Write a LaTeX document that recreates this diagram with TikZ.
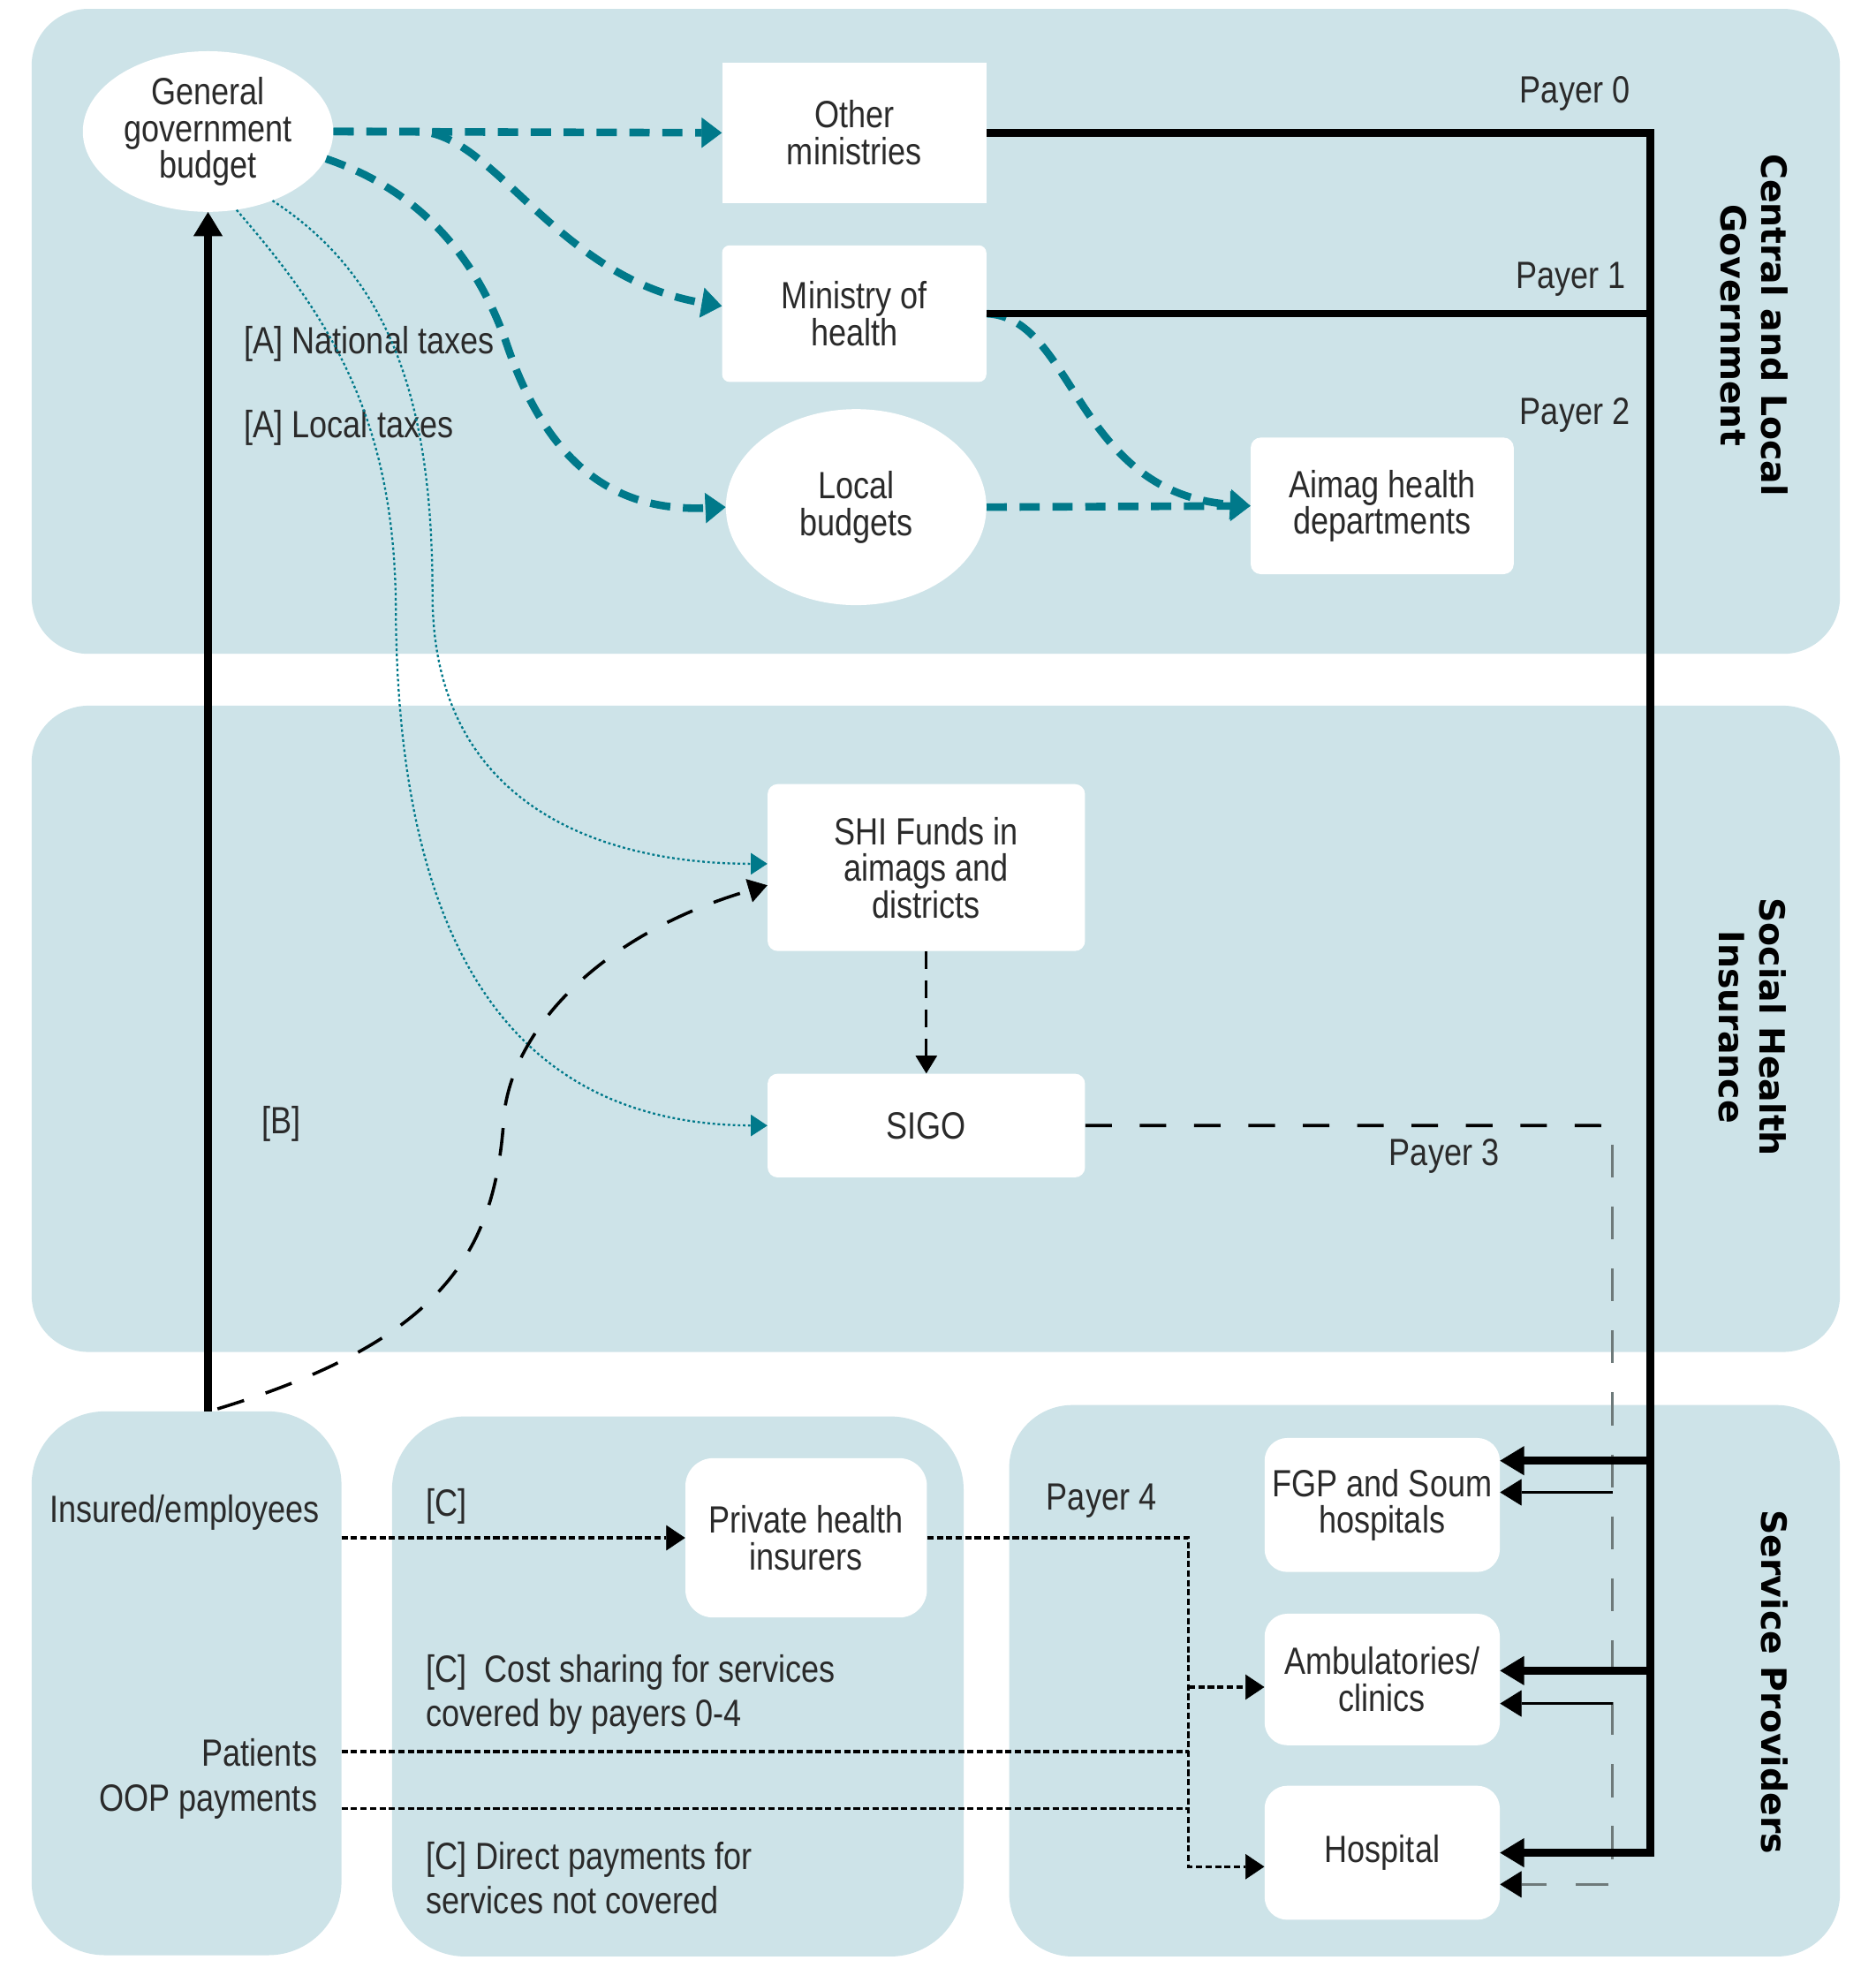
\documentclass[tikz,border=0pt]{standalone}
\usepackage{fontspec}
\setmainfont{Liberation Sans}[FakeStretch=0.84]
\newfontfamily\hdrfont{DejaVu Sans}
\usetikzlibrary{arrows.meta,shapes.geometric}
\definecolor{panel}{HTML}{CDE3E8}
\definecolor{tealc}{HTML}{00798A}
\definecolor{txt}{HTML}{2A2A2A}
\definecolor{grayd}{HTML}{6E7A7A}
\begin{document}
\begin{tikzpicture}[x=1pt,y=-1pt,
  every node/.style={text=txt, font=\fontsize{30}{29}\selectfont},
  box/.style={draw=none, fill=white, align=center, inner sep=0pt},
  oval/.style={ellipse, draw=none, fill=white, align=center, inner sep=0pt},
  lbl/.style={inner sep=0pt, align=left},
  hdr/.style={inner sep=0pt, align=center, text=black, font=\hdrfont\bfseries\fontsize{27.5}{32}\selectfont},
  tealdash/.style={draw=tealc, line width=6pt, dash pattern=on 16pt off 10pt,
     -{Triangle[length=16pt,width=24pt,line width=0.5pt]}},
  tealdot/.style={draw=tealc, line width=1.6pt, dash pattern=on 2pt off 2pt,
     -{Triangle[length=13pt,width=17pt,line width=0.5pt]}},
  thickblk/.style={draw=black, line width=6pt, line join=miter},
  thickarr/.style={thickblk, -{Triangle[length=19pt,width=23pt,line width=0.5pt]}},
  thinarr/.style={draw=black, line width=2.4pt, -{Triangle[length=17pt,width=21pt,line width=0.5pt]}},
  fdash/.style={draw=black, line width=2.2pt, dash pattern=on 5pt off 2.5pt},
  fdarr/.style={fdash, -{Triangle[length=15pt,width=20pt,line width=0.5pt]}},
  sdash/.style={draw=black, line width=2pt, dash pattern=on 14pt off 9pt,
     -{Triangle[length=14pt,width=17pt,line width=0.5pt]}},
  bdash/.style={draw=black, line width=2.5pt, dash pattern=on 22pt off 18pt,
     -{Triangle[length=15pt,width=19pt,line width=0.5pt]}},
  sigodash/.style={draw=black, line width=2.5pt, dash pattern=on 21pt off 22pt},
  graydash/.style={draw=grayd, line width=2.5pt, dash pattern=on 26pt off 23pt,
     -{Triangle[length=17pt,width=21pt,line width=0.5pt,color=black]}}
]
\useasboundingbox (0,0) rectangle (1483,1568);
\fill[white] (0,0) rectangle (1483,1568);

% panels
\fill[panel, rounded corners=45pt] (25,7) rectangle (1455,517);
\fill[panel, rounded corners=45pt] (25,558) rectangle (1455,1069);
\fill[panel, rounded corners=58pt] (25,1116) rectangle (270,1546);
\fill[panel, rounded corners=58pt] (310,1120) rectangle (762,1547);
\fill[panel, rounded corners=50pt] (798,1111) rectangle (1455,1547);

% nodes
\node[oval, minimum width=198pt, minimum height=127pt] (ggb) at (164.5,104) {General\\government\\budget};
\node[box, minimum width=209pt, minimum height=111pt] (om) at (675.5,105) {Other\\ministries};
\node[box, rounded corners=6pt, minimum width=209pt, minimum height=108pt] (mh) at (675.5,248) {Ministry of\\health};
\node[oval, minimum width=206pt, minimum height=155pt] (lb) at (677,401) {Local\\budgets};
\node[box, rounded corners=8pt, minimum width=208pt, minimum height=108pt] (ahd) at (1093,400) {Aimag health\\departments};
\node[box, rounded corners=8pt, minimum width=251pt, minimum height=132pt] (shi) at (732.5,686) {SHI Funds in\\aimags and\\districts};
\node[box, rounded corners=8pt, minimum width=251pt, minimum height=82pt] (sigo) at (732.5,890) {SIGO};
\node[box, rounded corners=22pt, minimum width=191pt, minimum height=126pt] (phi) at (637.5,1216) {Private health\\insurers};
\node[box, rounded corners=18pt, minimum width=186pt, minimum height=106pt] (fgp) at (1093,1190) {FGP and Soum\\hospitals};
\node[box, rounded corners=18pt, minimum width=186pt, minimum height=104pt] (amb) at (1093,1328) {Ambulatories/\\clinics};
\node[box, rounded corners=18pt, minimum width=186pt, minimum height=106pt] (hos) at (1093,1465) {Hospital};

% headers
\node[hdr, rotate=-90] (hcen) at (1387,257) {Central and Local\\Government};
\node[hdr, rotate=-90] (hshi) at (1386,812) {Social Health\\Insurance};
\node[hdr, rotate=-90] (hsp) at (1403,1330) {Service Providers};

% labels
\node[lbl, anchor=east] (p0) at (1289,74) {Payer 0};
\node[lbl, anchor=east] (p1) at (1286,221) {Payer 1};
\node[lbl, anchor=east] (p2) at (1289,328) {Payer 2};
\node[lbl] (p3) at (1142,914) {Payer 3};
\node[lbl] (p4) at (871,1187) {Payer 4};
\node[lbl, anchor=west] (ant) at (193,272) {[A] National taxes};
\node[lbl, anchor=west] (alt) at (193,338) {[A] Local taxes};
\node[lbl, anchor=west] (lb1) at (207,889) {[B]};
\node[lbl] (ins) at (146,1196) {Insured/employees};
\node[lbl, anchor=east] (pat) at (251,1386) {Patients};
\node[lbl, anchor=east] (oopl) at (251,1425) {OOP payments};
\node[lbl, anchor=west] (c1) at (337,1191) {[C]};
\node[lbl, anchor=west, font=\fontsize{30}{35}\selectfont] (c2) at (337,1340) {[C]\ \ Cost sharing for services\\covered by payers 0-4};
\node[lbl, anchor=west, font=\fontsize{30}{35}\selectfont] (c3) at (337,1485) {[C] Direct payments for\\services not covered};

% coordinates
\coordinate (trunk) at (1305,104);
\coordinate (gv) at (1275,905);
\coordinate (lstart) at (164.5,1116);
\coordinate (bstart) at (172,1114);
\coordinate (insl) at (270,1216);
\coordinate (patl) at (270,1385);
\coordinate (oopc) at (270,1430);
\coordinate (jx) at (940,1216);
\coordinate (fgpA) at ([yshift=35pt]fgp.east);
\coordinate (fgpB) at ([yshift=10pt]fgp.east);
\coordinate (ambA) at ([yshift=7pt]amb.east);
\coordinate (ambB) at ([yshift=-19pt]amb.east);
\coordinate (hosB) at ([yshift=-25pt]hos.east);
\coordinate (ambC) at ([yshift=-6pt]amb.west);
\coordinate (hosC) at ([yshift=-11pt]hos.west);

% teal flows
\draw[tealdash] (ggb.east) -- (om.west);
\draw[tealdash] (ggb.east) -- (330,104) .. controls (390,104) and (440,220) .. ([yshift=6pt]mh.west);
\draw[tealdash] (ggb.-13) .. controls (330,150) and (375,200) .. (400,270) .. controls (430,360) and (480,405) .. (lb.west);
\draw[tealdash] (mh.east) .. controls (850,251) and (850,390) .. (ahd.west);
\draw[tealdash] (lb.east) -- (ahd.west);

\draw[tealdot] (ggb.-47) .. controls (310,220) and (342,320) .. (342,470) .. controls (342,640) and (480,683) .. ([yshift=3pt]shi.west);
\draw[tealdot] (ggb.-70) .. controls (260,250) and (312,330) .. (313,480) .. controls (314,740) and (400,889) .. (sigo.west);

% SHI flows
\draw[sdash] (shi.south) -- (sigo.north);
\draw[bdash] (bstart) .. controls (350,1060) and (390,990) .. (398,890) .. controls (400,820) and (470,740) .. ([yshift=-14pt]shi.west);
\draw[sigodash, rounded corners=10pt] (sigo.east) -- (1275,890) -- (gv);
\draw[graydash] (gv) -- (gv |- hosB) -- (hosB);

% government payers
\draw[thickarr] (om.east) -- (om.east -| trunk) -- (trunk |- hos.east) -- (hos.east);
\draw[thickblk] (mh.east) -- (mh.east -| trunk);
\draw[thickarr] (trunk |- fgpA) -- (fgpA);
\draw[thickarr] (trunk |- ambA) -- (ambA);
\draw[thinarr] (gv |- fgpB) -- (fgpB);
\draw[thinarr] (gv |- ambB) -- (ambB);

% left contributions
\draw[thickarr] (lstart) -- (ggb.south);

% private flows
\draw[fdarr] (insl) -- (phi.west);
\draw[fdarr] (phi.east) -- (jx) -- (jx |- hosC) -- (hosC);
\draw[fdarr] (jx |- ambC) -- (ambC);
\draw[fdash] (patl) -- (patl -| jx);
\draw[fdash] (oopc) -- (oopc -| jx);
\end{tikzpicture}
\end{document}
